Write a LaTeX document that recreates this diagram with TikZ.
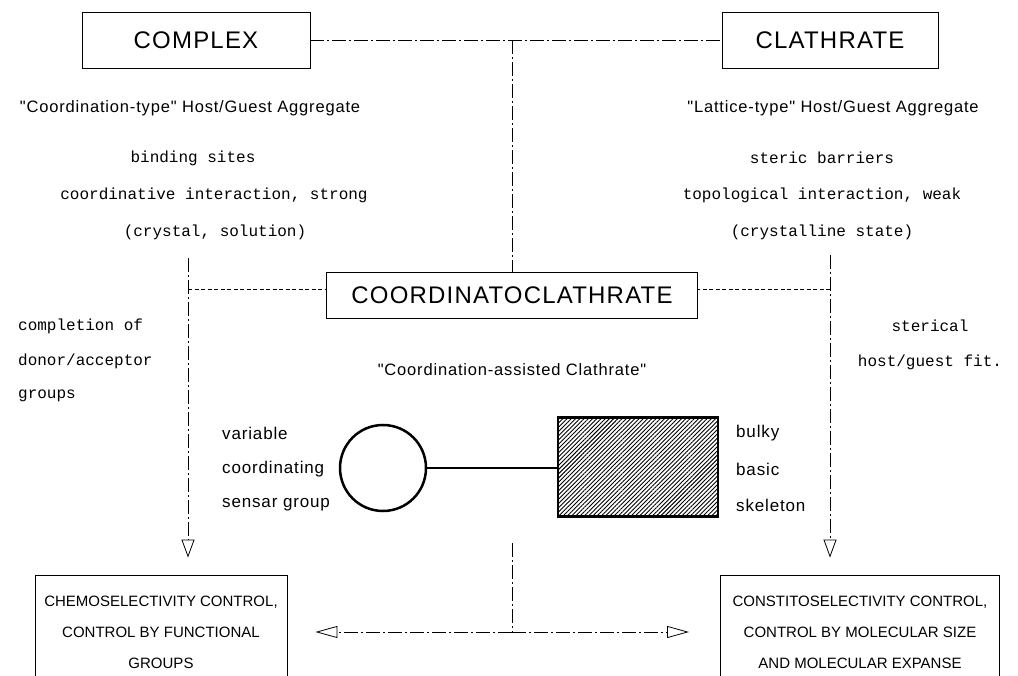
\documentclass[tikz,border=0pt]{standalone}
\usepackage{fontspec}
\setmainfont{Liberation Sans}
\newfontfamily\plot[LetterSpace=5]{Liberation Sans}
\newfontfamily\typew{Liberation Mono}
\usetikzlibrary{arrows.meta,patterns.meta,calc}
\newcommand{\dq}{{\char34}}
\begin{document}
\begin{tikzpicture}[x=1pt,y=-1pt,
  boxline/.style={draw, line width=0.9pt, inner sep=0pt},
  big/.style={font=\plot\fontsize{24}{28}\selectfont},
  lab/.style={font=\plot\fontsize{16.5}{19}\selectfont, inner sep=0pt},
  side/.style={font=\plot\fontsize{17}{20}\selectfont, inner sep=0pt, anchor=west},
  mono/.style={font=\typew\fontsize{16}{19}\selectfont, inner sep=0pt},
  caps/.style={font=\fontsize{15}{31}\selectfont, align=center, inner sep=0pt},
  dashdot/.style={line width=0.8pt, dash pattern=on 14pt off 3pt on 2pt off 3pt},
  dashline/.style={line width=0.9pt, dash pattern=on 4pt off 2.5pt},
  downhead/.style={-{Triangle[open,length=18pt,width=13pt,line width=0.8pt]}},
  sidehead/.style={-{Triangle[open,length=22pt,width=12pt,line width=0.8pt]}},
  heavy/.style={line width=2.5pt},
]
\useasboundingbox (0,0) rectangle (1018,676);
\clip (0,0) rectangle (1018,676);

% top boxes
\node[boxline, big, minimum width=228pt, minimum height=56pt] (complex) at (196,40) {COMPLEX};
\node[boxline, big, minimum width=216pt, minimum height=56pt] (clathrate) at (830,40) {CLATHRATE};
\coordinate (jt) at (512,40);
\draw[dashdot] (complex.east) -- (clathrate.west);

% middle box
\node[boxline, big, minimum width=371pt, minimum height=46pt] (coord) at (512,295) {COORDINATOCLATHRATE};
\draw[dashdot] (jt) -- (coord.north -| jt);

% descriptive texts top
\node[lab] (ctype) at (190,108) {\dq Coordination-type\dq\ Host/Guest Aggregate};
\node[lab] (ltype) at (833,108) {\dq Lattice-type\dq\ Host/Guest Aggregate};
\node[mono] (bind) at (193,158) {binding sites};
\node[mono] (coordint) at (214,195) {coordinative interaction, strong};
\node[mono] (cryst) at (215,232) {(crystal, solution)};
\node[mono] (steric) at (822,158) {steric barriers};
\node[mono] (topo) at (822,195) {topological interaction, weak};
\node[mono] (crystst) at (822,232) {(crystalline state)};

% side texts
\node[mono, anchor=west] (compl) at (18,326) {completion of};
\node[mono, anchor=west] (donor) at (18,361) {donor/acceptor};
\node[mono, anchor=west] (groups) at (18,396) {groups};
\node[mono] (sterical) at (930,326) {sterical};
\node[mono] (fit) at (930,362) {host/guest fit.};

\node[lab] (assist) at (512,370) {\dq Coordination-assisted Clathrate\dq};

% molecule sketch
\node[circle, draw, heavy, minimum size=86pt, inner sep=0pt] (sensor) at (383,468) {};
\node[draw, heavy, minimum width=160pt, minimum height=99pt, inner sep=0pt,
      pattern={Lines[angle=45,distance=3pt,line width=0.9pt]}] (skel) at (638,467) {};
\draw[heavy] (sensor.east) -- (skel.west |- sensor.east);

\node[side] (var) at (222,433) {variable};
\node[side] (coordg) at (222,469) {coordinating};
\node[side] (sensar) at (222,505) {sensar group};
\node[side] (bulky) at (736,433) {bulky};
\node[side] (basic) at (736,469) {basic};
\node[side] (skelt) at (736,505) {skeleton};

% bottom boxes (cut by the lower edge)
\node[boxline, minimum width=252pt, minimum height=140pt] (chemo) at (161,645) {};
\node[caps] (chemotxt) at (161,632) {CHEMOSELECTIVITY CONTROL,\\CONTROL BY FUNCTIONAL\\GROUPS};
\node[boxline, minimum width=279pt, minimum height=140pt] (constit) at (860,645) {};
\node[caps] (constittxt) at (860,632) {CONSTITOSELECTIVITY CONTROL,\\CONTROL BY MOLECULAR SIZE\\AND MOLECULAR EXPANSE};

% vertical connectors with arrows
\coordinate (ls) at (188,258);
\coordinate (rs) at (830,255);
\draw[dashdot, downhead, shorten >=17pt] (ls) -- (chemo.north -| ls);
\draw[dashdot, downhead, shorten >=17pt] (rs) -- (constit.north -| rs);

% horizontal dashed links
\draw[dashline] (188,289) coordinate (lm) -- (coord.west |- lm);
\draw[dashline] (830,289) coordinate (rm) -- (coord.east |- rm);

% bottom double arrow
\coordinate (cs) at (512,543);
\coordinate (cj) at (512,632);
\draw[dashdot] (cs) -- (cj);
\draw[dashdot, sidehead, shorten >=28pt] (cj) -- (chemo.east |- cj);
\draw[dashdot, sidehead, shorten >=31pt] (cj) -- (constit.west |- cj);
\end{tikzpicture}
\end{document}
